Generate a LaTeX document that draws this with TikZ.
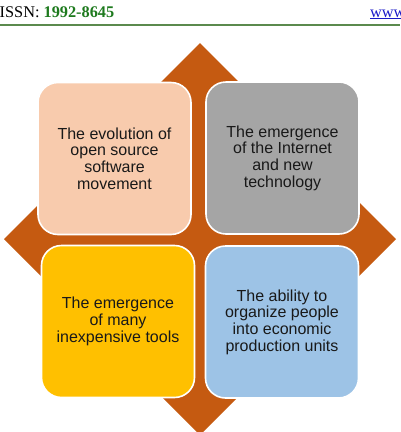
\documentclass[tikz,border=0pt]{standalone}
\usepackage{fontspec}
\setmainfont{Liberation Serif}
\newfontfamily\arialf{Liberation Sans}
\definecolor{diamondc}{HTML}{C55A11}
\definecolor{peachc}{HTML}{F8CBAD}
\definecolor{grayc}{HTML}{A5A5A5}
\definecolor{goldc}{HTML}{FFC000}
\definecolor{bluec}{HTML}{9DC3E6}
\definecolor{issngreen}{HTML}{1E7A1E}
\definecolor{rulegreen}{HTML}{5B8A4E}
\definecolor{linkblue}{HTML}{1A1AC8}
\tikzset{
  box/.style={draw=white, line width=1.6pt, rounded corners=20pt,
    minimum width=153pt, minimum height=152pt, align=center, text=black!90,
    font=\arialf\fontsize{16}{16.7}\selectfont, inner sep=0pt},
  head/.style={inner sep=0pt, font=\fontsize{16.3}{19}\selectfont}
}
\begin{document}
\begin{tikzpicture}[x=1pt,y=-1pt]
\useasboundingbox (0,0) rectangle (400,432);
% header
\node[head, anchor=base west] (issn) at (-0.5,17) {ISSN: \textcolor{issngreen}{\bfseries 1992-8645}};
\node[head, anchor=base west, text=linkblue] (www) at (370,17) {\underline{www}};
\draw[rulegreen, line width=1.4pt] (0,25) -- (400,25);
% diamond
\fill[diamondc] (200,43) -- (396,239) -- (200,435) -- (4,239) -- cycle;
% boxes
\node[box, fill=peachc] (tl) at (114.5,158.5) {The evolution of\\open source\\software\\movement};
\node[box, fill=grayc] (tr) at (282.5,158) {The emergence\\of the Internet\\and new\\technology};
\node[box, fill=goldc] (bl) at (118,321.5) {The emergence\\of many\\inexpensive tools};
\node[box, fill=bluec] (br) at (282,322) {The ability to\\organize people\\into economic\\production units};
\end{tikzpicture}
\end{document}
